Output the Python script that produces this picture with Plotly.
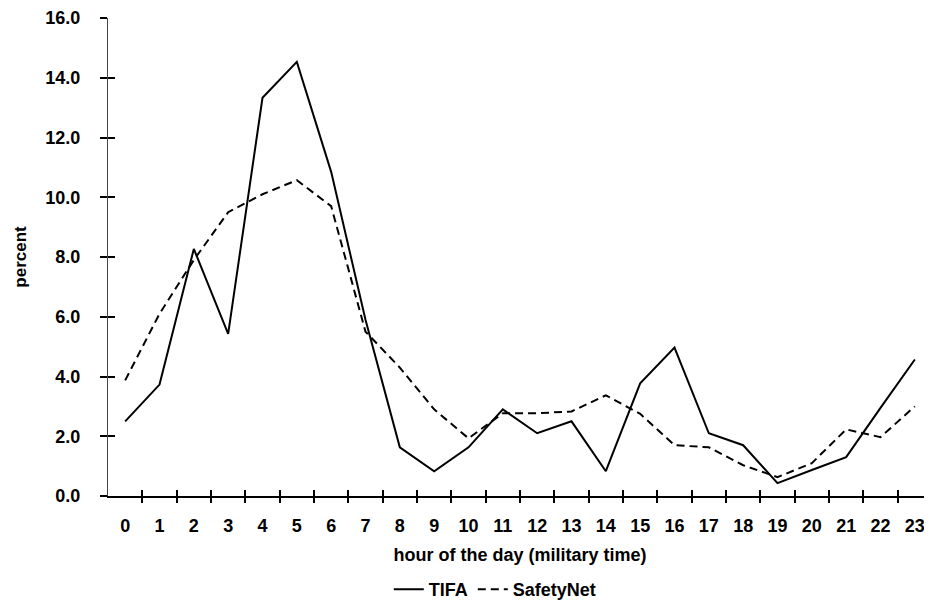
import plotly.graph_objects as go

hours = list(range(24))
hour_labels = [str(h) for h in hours]
tifa = [2.5, 3.73, 8.27, 5.43, 13.33, 14.53, 10.85, 5.9, 1.63, 0.83, 1.63, 2.9,
        2.1, 2.5, 0.83, 3.77, 4.97, 2.1, 1.7, 0.43, 0.87, 1.3, 2.95, 4.57]
safetynet = [3.87, 6.1, 7.9, 9.5, 10.1, 10.57, 9.7, 5.5, 4.3, 2.9, 1.93, 2.77,
             2.77, 2.83, 3.37, 2.75, 1.7, 1.63, 1.03, 0.63, 1.1, 2.23, 1.97, 3.0]
y_ticks = [0, 2, 4, 6, 8, 10, 12, 14, 16]
boundaries = [h + 0.5 for h in hours[:-1]]

FONT = "Liberation Sans, Arial, sans-serif"
tick_font = dict(family=FONT, size=18, color="black", weight="bold")

fig = go.Figure()
fig.add_trace(go.Scatter(x=hours, y=tifa, mode="lines", name="TIFA",
                         line=dict(color="black", width=2)))
fig.add_trace(go.Scatter(x=hours, y=safetynet, mode="lines", name="SafetyNet",
                         line=dict(color="black", width=2, dash="8px,5px")))
# invisible traces to host the crossing tick axes
fig.add_trace(go.Scatter(x=[hours[0]], y=[y_ticks[0]], xaxis="x2", yaxis="y2",
                         mode="markers", marker=dict(opacity=0), showlegend=False, hoverinfo="skip"))
fig.add_trace(go.Scatter(x=[hours[0]], y=[y_ticks[0]], xaxis="x3", yaxis="y3",
                         mode="markers", marker=dict(opacity=0), showlegend=False, hoverinfo="skip"))

xr = [-0.5, 23.5]
yr = [0, 16]
fig.update_layout(
    width=924, height=600,
    margin=dict(l=100, r=0, t=8, b=112),
    paper_bgcolor="white", plot_bgcolor="white",
    font=dict(family=FONT, color="black"),
    showlegend=True,
    legend=dict(orientation="h", x=0.47, xanchor="center", y=-0.196, yanchor="middle",
                font=dict(family=FONT, size=18, color="black", weight="bold"),
                itemwidth=30, traceorder="normal"),
    xaxis=dict(range=xr, tickmode="array", tickvals=hours, ticktext=hour_labels,
               ticks="", showgrid=False, zeroline=False, showline=True,
               linecolor="black", linewidth=2, tickfont=tick_font, ticklabelstandoff=12,
               ticklabeloverflow="allow",
               title=dict(text="hour of the day (military time)", standoff=14,
                          font=dict(family=FONT, size=18, color="black", weight="bold"))),
    yaxis=dict(range=yr, tickmode="array", tickvals=y_ticks, tickformat=".1f",
               ticks="outside", ticklen=7, tickwidth=1.5, tickcolor="black",
               showgrid=False, zeroline=False, showline=True, ticklabeloverflow="allow",
               linecolor="#444", linewidth=1, tickfont=tick_font, ticklabelstandoff=16,
               title=dict(text="percent", standoff=14,
                          font=dict(family=FONT, size=17, color="black", weight="bold"))),
    xaxis2=dict(range=xr, overlaying="x", anchor="y", tickmode="array", tickvals=boundaries,
                ticks="outside", ticklen=6, tickwidth=1.5, tickcolor="black",
                showticklabels=False, showgrid=False, zeroline=False, showline=False),
    xaxis3=dict(range=xr, overlaying="x", anchor="y", tickmode="array", tickvals=boundaries,
                ticks="inside", ticklen=6, tickwidth=1.5, tickcolor="black",
                showticklabels=False, showgrid=False, zeroline=False, showline=False),
    yaxis2=dict(range=yr, overlaying="y", anchor="x", tickvals=y_ticks, ticks="inside",
                ticklen=7, tickwidth=1.5, tickcolor="black", showticklabels=False,
                showgrid=False, zeroline=False, showline=False),
    yaxis3=dict(range=yr, overlaying="y", anchor="x", tickvals=y_ticks, ticks="",
                showticklabels=False, showgrid=False, zeroline=False, showline=False),
)

fig.write_html("out.html")
